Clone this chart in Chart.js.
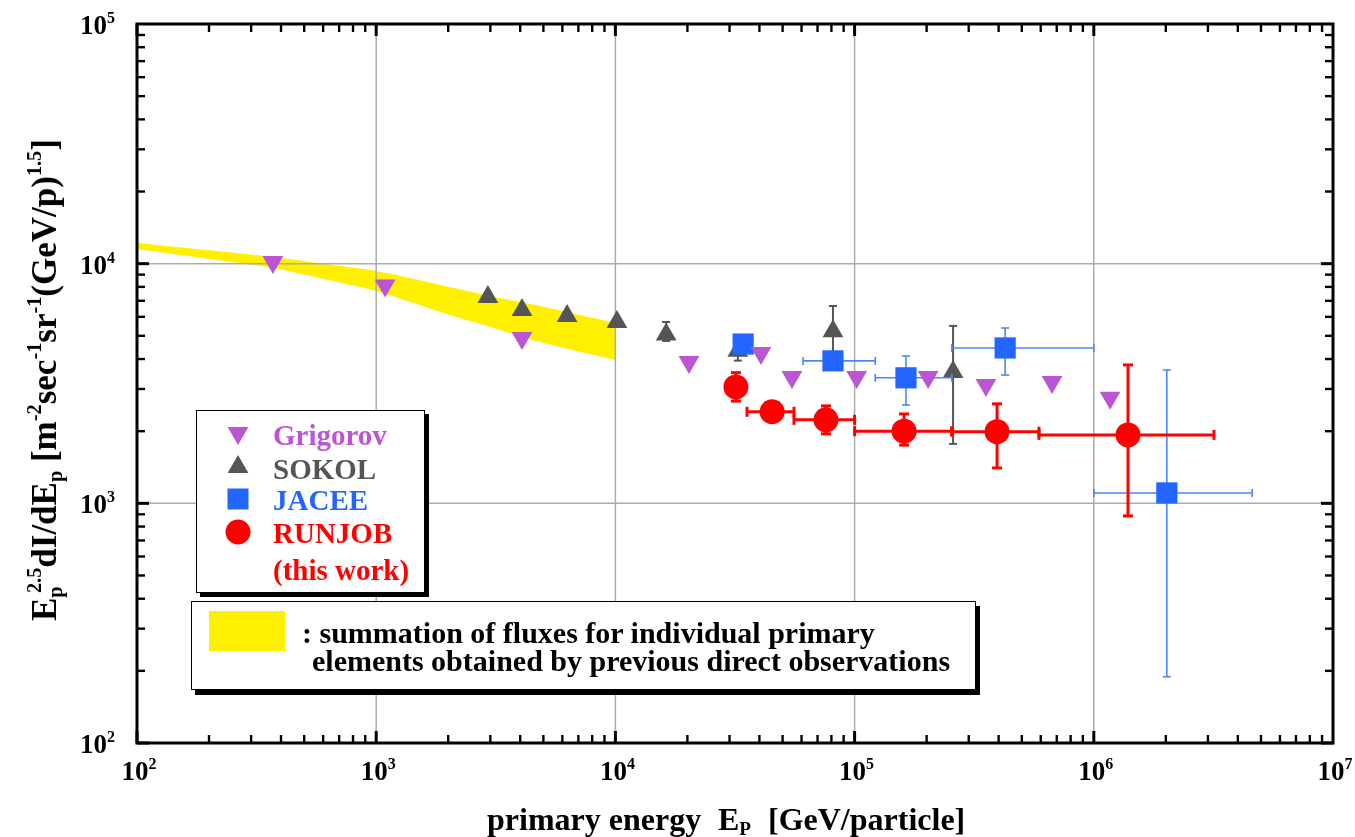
<!DOCTYPE html>
<html><head><meta charset="utf-8">
<script src="https://cdn.jsdelivr.net/npm/chart.js@4.4.1/dist/chart.umd.min.js"></script>
<style>
html,body{margin:0;padding:0;background:#fff;overflow:hidden;}
#wrap{position:relative;width:1355px;height:837px;font-family:"Liberation Serif","Times New Roman",Times,serif;font-weight:bold;color:#000;}
#c{position:absolute;left:0;top:0;}
.tl{position:absolute;font-size:27px;line-height:27px;white-space:nowrap;}
.tl sup{font-size:16px;vertical-align:11px;line-height:0;}
.tx{transform:translate(-50%,-50%);}
.ty{transform:translate(-100%,-50%);}
.box{position:absolute;background:#fff;border:1.5px solid #000;box-sizing:border-box;}
.row{position:absolute;left:76px;font-size:29px;line-height:32px;height:32px;white-space:nowrap;}
.mk{position:absolute;left:28px;width:26px;height:26px;}
.sline{position:absolute;font-size:30px;line-height:30px;white-space:nowrap;}
#ytitle{position:absolute;left:45px;top:380px;font-size:35px;line-height:40px;white-space:nowrap;transform:translate(-50%,-50%) rotate(-90deg);}
#ytitle sup,#ytitle sub{font-size:0.58em;line-height:0;}
#ytitle sup{vertical-align:0.75em;}
#ytitle sub{vertical-align:-0.3em;}
.xt{position:absolute;top:803px;font-size:32px;line-height:32px;white-space:nowrap;}
.xt sub{font-size:0.6em;vertical-align:-0.25em;line-height:0;}
</style></head>
<body>
<div id="wrap">
<canvas id="c" width="1355" height="837"></canvas>

<div id="ytitle">E<sub>p</sub><sup style="margin-left:-0.33em">2.5</sup>dI/dE<sub>p</sub> [m<sup>-2</sup>sec<sup>-1</sup>sr<sup>-1</sup>(GeV/p)<sup>1.5</sup>]</div>

<div class="xt" style="left:487px">primary energy</div>
<div class="xt" style="left:718px">E<sub>P</sub></div>
<div class="xt" style="left:768px">[GeV/particle]</div>

<div class="box" style="left:196px;top:410px;width:229px;height:183px;box-shadow:4px 4px 0 #000;">
  <svg class="mk" style="top:9px" viewBox="0 0 26 26"><polygon points="2.6,7 23.4,7 13,25" fill="#ba55d3"/></svg>
  <div class="row" style="top:8px;color:#ba55d3">Grigorov</div>
  <svg class="mk" style="top:43px" viewBox="0 0 26 26"><polygon points="13,1 23.4,19 2.6,19" fill="#555555"/></svg>
  <div class="row" style="top:42px;color:#555555">SOKOL</div>
  <svg class="mk" style="top:75px" viewBox="0 0 26 26"><rect x="2.5" y="2.5" width="21" height="21" fill="#2266ff"/></svg>
  <div class="row" style="top:73px;color:#2266ff">JACEE</div>
  <svg class="mk" style="top:108px" viewBox="0 0 26 26"><circle cx="13" cy="13" r="12.5" fill="#ff0000"/></svg>
  <div class="row" style="top:106px;color:#ff0000">RUNJOB</div>
  <div class="row" style="top:143px;color:#ff0000">(this work)</div>
</div>

<div class="box" style="left:191px;top:601px;width:785px;height:89px;box-shadow:4px 5px 0 #000;">
  <div style="position:absolute;left:17px;top:9px;width:76px;height:40px;background:#fff000;"></div>
  <div class="sline" style="left:110px;top:16px">: summation of fluxes for individual primary</div>
  <div class="sline" style="left:120px;top:44px">elements obtained by previous direct observations</div>
</div>
</div>

<script>
// ---- axis ticks ----
const xTickValues = [1e2, 1e3, 1e4, 1e5, 1e6, 1e7];
const xTickExp = ['2', '3', '4', '5', '6', '7'];
const yTickValues = [1e2, 1e3, 1e4, 1e5];
const yTickExp = ['2', '3', '4', '5'];

// ---- yellow band: summation of fluxes (previous direct observations) ----
const bandX = [100, 200, 370, 600, 1000, 1850, 3000, 4840, 10000];
const bandUpper = [12200, 11370, 10670, 10000, 9320, 8150, 7330, 6660, 5660];
const bandLower = [11500, 10460, 9590, 8640, 7690, 6290, 5440, 4710, 3960];

// ---- Grigorov ----
const grigX = [370, 1090, 4070, 20300, 40600, 54700, 102000, 203000, 354000, 669000, 1170000];
const grigY = [10150, 8100, 4900, 3890, 4240, 3370, 3370, 3370, 3120, 3210, 2760];

// ---- SOKOL ----
const sokX = [2930, 4070, 6280, 10150, 16300, 32500, 81200, 258000];
const sokY = [7260, 6410, 6050, 5710, 5060, 4330, 5220, 3530];
const sokYLo = [null, null, null, null, 4760, 3940, 4100, 1770];
const sokYHi = [null, null, null, null, 5710, 4760, 6660, 5500];

// ---- JACEE ----
const jacX = [34200, 81200, 164000, 426000, 2020000];
const jacY = [4620, 3930, 3340, 4450, 1105];
const jacXLo = [null, 60900, 122000, 255000, 1000000];
const jacXHi = [null, 122000, 255000, 1000000, 4590000];
const jacYLo = [null, null, 2570, 3430, 189];
const jacYHi = [null, null, 4120, 5390, 3600];

// ---- RUNJOB (this work) ----
const runX = [31900, 45200, 75900, 161000, 394000, 1390000];
const runY = [3060, 2410, 2230, 2000, 1990, 1930];
const runXLo = [null, 35500, 55800, 100000, 255000, 590000];
const runXHi = [null, 55800, 100000, 255000, 590000, 3180000];
const runYLo = [2670, null, 1950, 1750, 1405, 886];
const runYHi = [3510, null, 2550, 2360, 2600, 3780];

const pts = (xs, ys) => xs.map((x, i) => ({x: x, y: ys[i]}));

const errSpec = {
  'SOKOL':  {color: '#555555', width: 2,   cap: 4, xLo: [], xHi: [], yLo: sokYLo, yHi: sokYHi},
  'JACEE':  {color: '#4a86ff', width: 1.6, cap: 4, xLo: jacXLo, xHi: jacXHi, yLo: jacYLo, yHi: jacYHi},
  'RUNJOB': {color: '#ff0000', width: 3,   cap: 5, xLo: runXLo, xHi: runXHi, yLo: runYLo, yHi: runYHi}
};

function line(ctx, a, b, c, d) { ctx.beginPath(); ctx.moveTo(a, b); ctx.lineTo(c, d); ctx.stroke(); }

const errBars = {
  id: 'errBars',
  beforeDatasetDraw(chart, args) {
    const ds = chart.data.datasets[args.index];
    const e = errSpec[ds.label];
    if (!e) return;
    const ctx = chart.ctx, xs = chart.scales.x, ys = chart.scales.y;
    ctx.save();
    ctx.strokeStyle = e.color; ctx.lineWidth = e.width; ctx.lineCap = 'butt';
    ds.data.forEach((p, i) => {
      const px = xs.getPixelForValue(p.x), py = ys.getPixelForValue(p.y);
      if (e.xLo[i] != null) {
        const a = xs.getPixelForValue(e.xLo[i]), b = xs.getPixelForValue(e.xHi[i]);
        line(ctx, a, py, b, py);
        line(ctx, a, py - e.cap, a, py + e.cap);
        line(ctx, b, py - e.cap, b, py + e.cap);
      }
      if (e.yLo[i] != null) {
        const a = ys.getPixelForValue(e.yLo[i]), b = ys.getPixelForValue(e.yHi[i]);
        line(ctx, px, a, px, b);
        line(ctx, px - e.cap, a, px + e.cap, a);
        line(ctx, px - e.cap, b, px + e.cap, b);
      }
    });
    ctx.restore();
  }
};

// gridlines at decades drawn over the yellow band
const grid = {
  id: 'gridOver',
  afterDatasetDraw(chart, args) {
    if (args.index !== 1) return;
    const ctx = chart.ctx, xs = chart.scales.x, ys = chart.scales.y, ca = chart.chartArea;
    ctx.save();
    ctx.strokeStyle = '#ababab'; ctx.lineWidth = 1.5;
    xTickValues.forEach(v => { const p = xs.getPixelForValue(v); line(ctx, p, ca.top, p, ca.bottom); });
    yTickValues.forEach(v => { const p = ys.getPixelForValue(v); line(ctx, ca.left, p, ca.right, p); });
    ctx.restore();
  }
};

const frame = {
  id: 'frame',
  afterDatasetsDraw(chart) {
    const ctx = chart.ctx, xs = chart.scales.x, ys = chart.scales.y;
    const {left, right, top, bottom} = chart.chartArea;
    ctx.save();
    ctx.strokeStyle = '#000';
    for (let d = 2; d < 7; d++) {
      for (let m = 1; m <= 9; m++) {
        const v = m * Math.pow(10, d);
        const p = xs.getPixelForValue(v);
        const len = m === 1 ? 12 : 8;
        ctx.lineWidth = m === 1 ? 3 : 2.4;
        line(ctx, p, bottom, p, bottom - len);
        line(ctx, p, top, p, top + len);
      }
    }
    for (let d = 2; d < 5; d++) {
      for (let m = 1; m <= 9; m++) {
        const v = m * Math.pow(10, d);
        const p = ys.getPixelForValue(v);
        const len = m === 1 ? 12 : 8;
        ctx.lineWidth = m === 1 ? 3 : 2.4;
        line(ctx, left, p, left + len, p);
        line(ctx, right, p, right - len, p);
      }
    }
    ctx.lineWidth = 3;
    ctx.strokeRect(left, top, right - left, bottom - top);
    ctx.restore();
  }
};

const htmlTicks = {
  id: 'htmlTicks',
  afterRender(chart) {
    const wrap = document.getElementById('wrap');
    document.querySelectorAll('.tl').forEach(el => el.remove());
    const xs = chart.scales.x, ys = chart.scales.y, ca = chart.chartArea;
    xTickValues.forEach((v, i) => {
      const d = document.createElement('div');
      d.className = 'tl tx';
      d.innerHTML = '10<sup>' + xTickExp[i] + '</sup>';
      d.style.left = (xs.getPixelForValue(v) + 2) + 'px';
      d.style.top = (ca.bottom + 28) + 'px';
      wrap.appendChild(d);
    });
    yTickValues.forEach((v, i) => {
      const d = document.createElement('div');
      d.className = 'tl ty';
      d.innerHTML = '10<sup>' + yTickExp[i] + '</sup>';
      d.style.left = (ca.left - 22) + 'px';
      d.style.top = (ys.getPixelForValue(v) + 1) + 'px';
      wrap.appendChild(d);
    });
  }
};

new Chart(document.getElementById('c'), {
  type: 'scatter',
  data: {
    datasets: [
      {label: 'bandLower', data: pts(bandX, bandLower), showLine: true, borderWidth: 0, pointRadius: 0, fill: false, tension: 0.3, order: 10, borderColor: 'rgba(0,0,0,0)'},
      {label: 'summation of fluxes', data: pts(bandX, bandUpper), showLine: true, borderWidth: 0, pointRadius: 0, fill: '-1', backgroundColor: '#fff000', tension: 0.3, order: 9, borderColor: 'rgba(0,0,0,0)'},
      {label: 'SOKOL', data: pts(sokX, sokY), pointStyle: 'triangle', pointRadius: 12, pointBackgroundColor: '#555555', pointBorderWidth: 0, pointBorderColor: '#555555', order: 4},
      {label: 'JACEE', data: pts(jacX, jacY), pointStyle: 'rect', pointRadius: 15, pointBackgroundColor: '#2266ff', pointBorderWidth: 0, pointBorderColor: '#2266ff', order: 3},
      {label: 'Grigorov', data: pts(grigX, grigY), pointStyle: 'triangle', pointRotation: 180, pointRadius: 12, pointBackgroundColor: '#ba55d3', pointBorderWidth: 0, pointBorderColor: '#ba55d3', order: 2},
      {label: 'RUNJOB', data: pts(runX, runY), pointStyle: 'circle', pointRadius: 12.5, pointBackgroundColor: '#ff0000', pointBorderWidth: 0, pointBorderColor: '#ff0000', order: 1}
    ]
  },
  options: {
    responsive: false,
    animation: false,
    devicePixelRatio: 1,
    events: [],
    layout: {padding: {left: 0, right: 22, top: 24, bottom: 0}},
    plugins: {legend: {display: false}, tooltip: {enabled: false}},
    scales: {
      x: {
        type: 'logarithmic', min: 1e2, max: 1e7, position: 'bottom',
        grid: {display: false}, border: {display: false},
        ticks: {display: false},
        afterBuildTicks: s => { s.ticks = xTickValues.map(v => ({value: v})); },
        afterFit: s => { s.height = 94; }
      },
      y: {
        type: 'logarithmic', min: 1e2, max: 1e5, position: 'left',
        grid: {display: false}, border: {display: false},
        ticks: {display: false},
        afterBuildTicks: s => { s.ticks = yTickValues.map(v => ({value: v})); },
        afterFit: s => { s.width = 137; }
      }
    }
  },
  plugins: [errBars, grid, frame, htmlTicks]
});
</script>
</body></html>
